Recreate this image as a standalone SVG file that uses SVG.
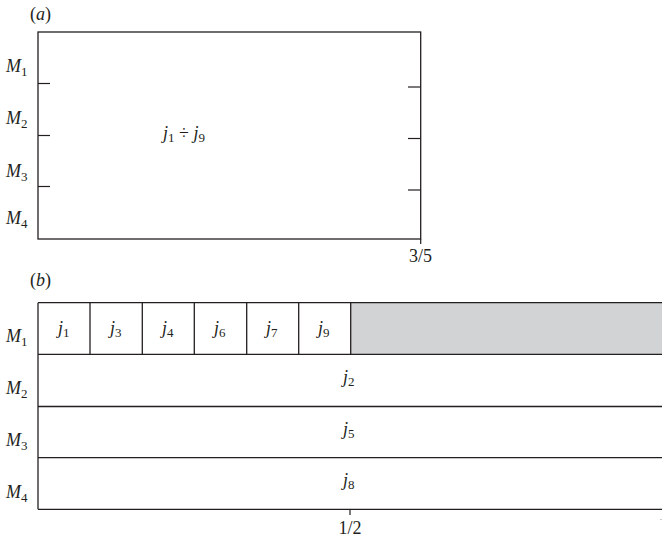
<svg xmlns="http://www.w3.org/2000/svg" width="662" height="538" viewBox="0 0 662 538">
<style>
.t{font-family:"Liberation Serif","Times New Roman",serif;font-size:18px;fill:#231f20}
.i{font-style:italic}
.s{font-size:13px;font-style:normal}
.ln{stroke:#231f20;stroke-width:1.3;fill:none}
.tk{stroke:#231f20;stroke-width:1.2}
</style>
<rect width="662" height="538" fill="#fff"/>
<g id="panel-a">
<text class="t" x="30" y="20">(<tspan class="i">a</tspan>)</text>
<rect id="a-box" class="ln" x="38" y="32" width="382.7" height="207"/>
<g id="a-ticks">
<line class="tk" x1="38" y1="83.5" x2="50" y2="83.5"/>
<line class="tk" x1="38" y1="135.5" x2="50" y2="135.5"/>
<line class="tk" x1="38" y1="186.5" x2="50" y2="186.5"/>
<line class="tk" x1="408" y1="87" x2="420.7" y2="87"/>
<line class="tk" x1="408" y1="138.5" x2="420.7" y2="138.5"/>
<line class="tk" x1="408" y1="190" x2="420.7" y2="190"/>
<line class="tk" x1="420.7" y1="239" x2="420.7" y2="244"/>
</g>
<text class="t i" x="6" y="72">M<tspan class="s" dy="4">1</tspan></text>
<text class="t i" x="6" y="124">M<tspan class="s" dy="4">2</tspan></text>
<text class="t i" x="6" y="176.5">M<tspan class="s" dy="4">3</tspan></text>
<text class="t i" x="6" y="224">M<tspan class="s" dy="4">4</tspan></text>
<text class="t" x="163" y="139"><tspan class="i">j</tspan><tspan class="s" dy="3">1</tspan><tspan dy="-3"> ÷ </tspan><tspan class="i">j</tspan><tspan class="s" dy="3">9</tspan></text>
<text class="t" x="420.5" y="262" text-anchor="middle">3/5</text>
</g>
<g id="panel-b">
<text class="t" x="30" y="286">(<tspan class="i">b</tspan>)</text>
<rect id="idle" x="350.7" y="302.7" width="312" height="51.6" fill="#d1d3d4"/>
<g id="rows">
<line class="ln" x1="38" y1="302.7" x2="662" y2="302.7"/>
<line class="ln" x1="38" y1="354.3" x2="662" y2="354.3"/>
<line class="ln" x1="38" y1="406.5" x2="662" y2="406.5"/>
<line class="ln" x1="38" y1="457.7" x2="662" y2="457.7"/>
<line class="ln" x1="38" y1="509.3" x2="662" y2="509.3"/>
<line class="ln" x1="38" y1="302.7" x2="38" y2="509.3"/>
</g>
<g id="cells">
<line class="ln" x1="90" y1="302.7" x2="90" y2="354.3"/>
<line class="ln" x1="142.3" y1="302.7" x2="142.3" y2="354.3"/>
<line class="ln" x1="194.3" y1="302.7" x2="194.3" y2="354.3"/>
<line class="ln" x1="246.7" y1="302.7" x2="246.7" y2="354.3"/>
<line class="ln" x1="298.7" y1="302.7" x2="298.7" y2="354.3"/>
<line class="ln" x1="350.7" y1="302.7" x2="350.7" y2="354.3"/>
</g>
<text class="t i" x="58" y="334">j<tspan class="s" dy="3">1</tspan></text>
<text class="t i" x="110" y="334">j<tspan class="s" dy="3">3</tspan></text>
<text class="t i" x="162" y="334">j<tspan class="s" dy="3">4</tspan></text>
<text class="t i" x="214" y="334">j<tspan class="s" dy="3">6</tspan></text>
<text class="t i" x="266" y="334">j<tspan class="s" dy="3">7</tspan></text>
<text class="t i" x="318" y="334">j<tspan class="s" dy="3">9</tspan></text>
<text class="t i" x="343" y="383">j<tspan class="s" dy="3">2</tspan></text>
<text class="t i" x="343" y="435">j<tspan class="s" dy="3">5</tspan></text>
<text class="t i" x="343" y="486">j<tspan class="s" dy="3">8</tspan></text>
<text class="t i" x="6" y="342">M<tspan class="s" dy="4">1</tspan></text>
<text class="t i" x="6" y="394">M<tspan class="s" dy="4">2</tspan></text>
<text class="t i" x="6" y="446">M<tspan class="s" dy="4">3</tspan></text>
<text class="t i" x="6" y="498">M<tspan class="s" dy="4">4</tspan></text>
<line class="tk" x1="350" y1="509.3" x2="350" y2="515"/>
<line class="tk" x1="661" y1="519" x2="661" y2="520" stroke-opacity="0.4"/>
<text class="t" x="350" y="534" text-anchor="middle">1/2</text>
</g>
</svg>
